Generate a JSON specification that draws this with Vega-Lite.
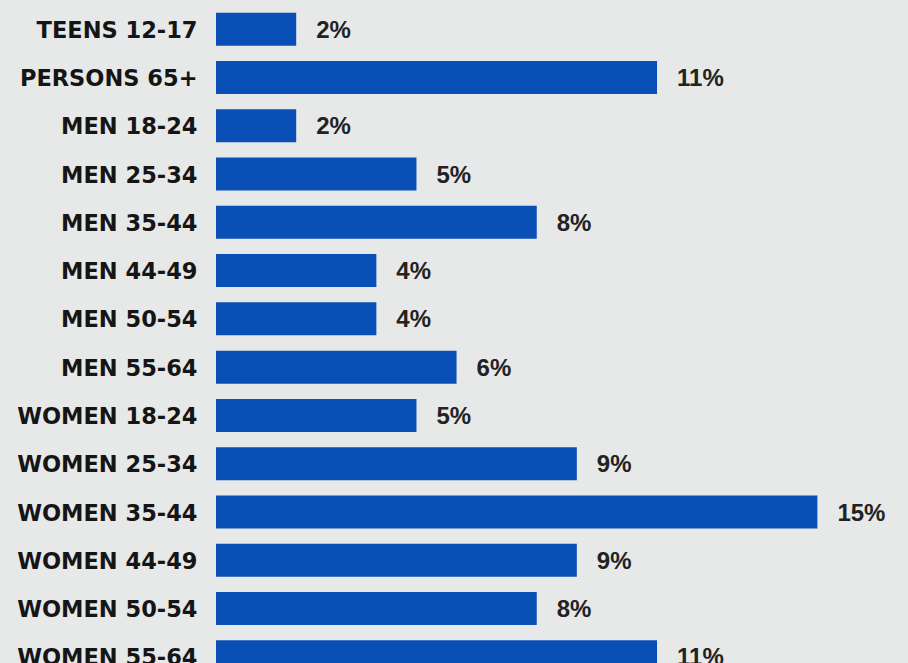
{
  "$schema": "https://vega.github.io/schema/vega-lite/v6.json",
  "width": 692,
  "height": 676,
  "autosize": {"type": "none"},
  "padding": {"left": 216, "top": 5, "right": 0, "bottom": 0},
  "background": "#e7e8e8",
  "config": {"view": {"stroke": null}},
  "data": {
    "values": [
      {"group": "TEENS 12-17", "pct": 0.02},
      {"group": "PERSONS 65+", "pct": 0.11},
      {"group": "MEN 18-24", "pct": 0.02},
      {"group": "MEN 25-34", "pct": 0.05},
      {"group": "MEN 35-44", "pct": 0.08},
      {"group": "MEN 44-49", "pct": 0.04},
      {"group": "MEN 50-54", "pct": 0.04},
      {"group": "MEN 55-64", "pct": 0.06},
      {"group": "WOMEN 18-24", "pct": 0.05},
      {"group": "WOMEN 25-34", "pct": 0.09},
      {"group": "WOMEN 35-44", "pct": 0.15},
      {"group": "WOMEN 44-49", "pct": 0.09},
      {"group": "WOMEN 50-54", "pct": 0.08},
      {"group": "WOMEN 55-64", "pct": 0.11}
    ]
  },
  "encoding": {
    "y": {
      "field": "group",
      "type": "nominal",
      "sort": null,
      "scale": {"paddingInner": 0.317, "paddingOuter": 0.1585},
      "axis": {
        "title": null,
        "domain": false,
        "ticks": false,
        "labelPadding": 19,
        "labelOffset": 1.5,
        "labelFont": "DejaVu Sans",
        "labelFontWeight": "bold",
        "labelFontSize": 22.5,
        "labelColor": "#151515",
        "labelLimit": 300
      }
    },
    "x": {
      "field": "pct",
      "type": "quantitative",
      "scale": {"domain": [0, 0.1726], "nice": false, "zero": true},
      "axis": null
    }
  },
  "layer": [
    {"mark": {"type": "bar", "color": "#0a4fb6"}},
    {
      "mark": {
        "type": "text",
        "align": "left",
        "baseline": "middle",
        "dx": 20,
        "dy": 1.5,
        "font": "Liberation Sans",
        "fontWeight": "bold",
        "fontSize": 24,
        "color": "#222222"
      },
      "encoding": {"text": {"field": "pct", "type": "quantitative", "format": ".0%"}}
    }
  ]
}
